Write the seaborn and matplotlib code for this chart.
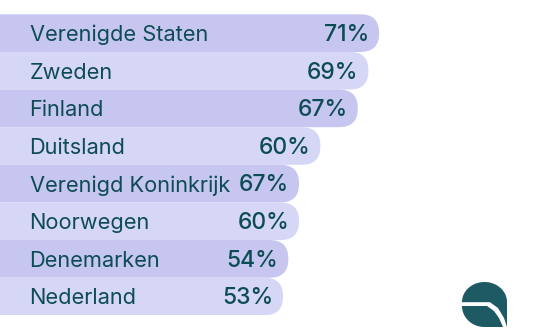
import numpy as np
import pandas as pd
import matplotlib
matplotlib.use("Agg")
import matplotlib.pyplot as plt
import seaborn as sns
from matplotlib.patches import FancyBboxPatch

countries = ["Verenigde Staten", "Zweden", "Finland", "Duitsland",
             "Verenigd Koninkrijk", "Noorwegen", "Denemarken", "Nederland"]
bar_lengths = [71, 69, 67, 60, 56, 56, 54, 53]
value_labels = ["71%", "69%", "67%", "60%", "67%", "60%", "54%", "53%"]
bar_colors = ["#C6C6F0", "#D6D6F6"] * 4
text_color = "#0D4C55"
logo_color = "#1E5A63"

sns.set_theme(style="white")
plt.rcParams["font.family"] = ["Inter", "DejaVu Sans"]

W, H = 534, 334
fig = plt.figure(figsize=(W / 100, H / 100), dpi=100)
top_px, bot_px = 14.3, 315.3
ax = fig.add_axes([0, (H - bot_px) / H, 1, (bot_px - top_px) / H])

df = pd.DataFrame({"country": countries, "share": bar_lengths})
sns.barplot(data=df, x="share", y="country", hue="country", palette=bar_colors,
            width=1.0, legend=False, ax=ax, saturation=1, linewidth=0)
ax.set_xlim(0, 100)
ax.set_ylim(len(countries) - 0.5, -0.5)

px_x = W / 100.0
px_y = (bot_px - top_px) / len(countries)
r_px = 18.5
aspect = px_x / px_y
for p in list(ax.patches):
    x0, y0, w, h = p.get_x(), p.get_y(), p.get_width(), p.get_height()
    fc = p.get_facecolor()
    p.remove()
    ax.add_patch(FancyBboxPatch((x0 - 8, y0), w + 8, h,
                                boxstyle=f"round,pad=0,rounding_size={r_px / px_x}",
                                mutation_aspect=aspect, fc=fc, ec="none"))

for i, (c, v, lab) in enumerate(zip(countries, bar_lengths, value_labels)):
    ax.text(29.5 / px_x, i + 0.05, c, ha="left", va="center", fontsize=15.7,
            color=text_color)
    ax.text(v - 10 / px_x, i + 0.05, lab, ha="right", va="center", fontsize=16.5,
            color=text_color, fontweight="medium")

ax.axis("off")

# logo
lax = fig.add_axes([0, 0, 1, 1], zorder=5)
lax.set_xlim(0, W)
lax.set_ylim(H, 0)
lax.axis("off")
cx, r = 484.5, 22.5
t = np.linspace(np.pi, 2 * np.pi, 40)
top_pts = [(cx + r * np.cos(a), 302 + 20 * np.sin(a)) for a in t]
upper = top_pts + [(507, 327), (504, 318), (498, 308), (490, 302.2), (462, 302.2)]
lax.add_patch(plt.Polygon(upper, closed=True, fc=logo_color, ec="none"))
t2 = np.linspace(np.pi, np.pi / 2, 30)
low_arc = [(484.5 + 22.5 * np.cos(a), 306 + 21 * np.sin(a)) for a in t2]
lower = [(462, 306), (487, 306), (494, 311), (499, 318), (503, 327)] + low_arc[::-1]
lax.add_patch(plt.Polygon(lower, closed=True, fc=logo_color, ec="none"))

fig.savefig("out.png", dpi=100)
